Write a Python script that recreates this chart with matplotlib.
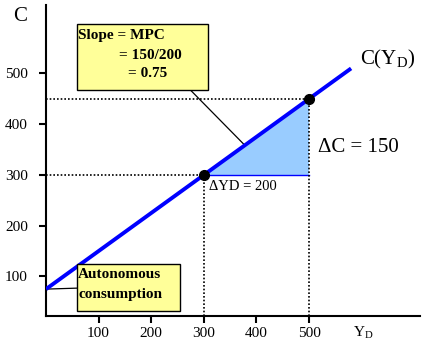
import matplotlib
matplotlib.use("Agg")
import matplotlib.pyplot as plt
from matplotlib.patches import Polygon, Rectangle

plt.rcParams['font.family'] = ['Liberation Serif', 'DejaVu Serif']
plt.rcParams['mathtext.fontset'] = 'custom'
plt.rcParams['mathtext.rm'] = 'Liberation Serif'
plt.rcParams['mathtext.it'] = 'Liberation Serif:italic'

# data
autonomous = 75
mpc = 0.75
yd_points = [300, 500]
yd_line = [0, 580]
x_ticks = [100, 200, 300, 400, 500]
y_ticks = [100, 200, 300, 400, 500]

def cons(y):
    return autonomous + mpc * y

c_points = [cons(v) for v in yd_points]
c_line = [cons(v) for v in yd_line]

fig = plt.figure(figsize=(4.24, 3.41), dpi=100)
ax = fig.add_axes([46/424, 25/341, 374/424, 311/341])
ax.set_xlim(0, 711)
ax.set_ylim(22, 635)

for s in ['top', 'right']:
    ax.spines[s].set_visible(False)
for s in ['left', 'bottom']:
    ax.spines[s].set_linewidth(1.5)

ax.set_xticks(x_ticks)
ax.set_yticks(y_ticks)
ax.tick_params(axis='both', labelsize=11, width=1.5, length=5, direction='out')
ax.tick_params(axis='y', pad=8)
ax.tick_params(axis='x', pad=3)

# shaded triangle
tri = Polygon([[yd_points[0], c_points[0]], [yd_points[1], c_points[0]],
               [yd_points[1], c_points[1]]], closed=True,
              facecolor='#99CCFF', edgecolor='none', zorder=1)
ax.add_patch(tri)
ax.plot([yd_points[0], yd_points[1]], [c_points[0], c_points[0]],
        color='#0000FF', lw=1.0, zorder=2)

# dotted guides
for xv, cv in zip(yd_points, c_points):
    ax.plot([0, xv], [cv, cv], color='black', ls=(0, (1, 1.2)), lw=1.2, zorder=2)
    ax.plot([xv, xv], [22, cv], color='black', ls=(0, (1, 1.2)), lw=1.2, zorder=2)

# consumption line
ax.plot(yd_line, c_line, color='#0000FF', lw=2.8, zorder=3, solid_capstyle='butt')
ax.plot(yd_points, c_points, 'o', color='black', ms=7, zorder=4)

# leader lines
ax.plot([274, 378], [468, cons(378)], color='black', lw=0.9, zorder=2)
ax.plot([0, 61], [autonomous, 77], color='black', lw=0.9, zorder=2, clip_on=False)

# box 1
ax.add_patch(Rectangle((61, 466), 249, 130, facecolor='#555555', edgecolor='none', zorder=4))
ax.add_patch(Rectangle((59, 468), 249, 130, facecolor='#FFFF99', edgecolor='black', lw=1.0, zorder=5))
ax.text(60, 574, 'Slope = MPC', fontsize=11, fontweight='bold', va='center', ha='left', zorder=6)
ax.text(139, 536, '= 150/200', fontsize=11, fontweight='bold', va='center', ha='left', zorder=6)
ax.text(156, 499, '= 0.75', fontsize=11, fontweight='bold', va='center', ha='left', zorder=6)

# box 2
ax.add_patch(Rectangle((61, 30), 196, 93, facecolor='#555555', edgecolor='none', zorder=4))
ax.add_patch(Rectangle((59, 32), 196, 93, facecolor='#FFFF99', edgecolor='black', lw=1.0, zorder=5))
ax.text(61, 103, 'Autonomous', fontsize=11, fontweight='bold', va='center', ha='left', zorder=6)
ax.text(61, 65, 'consumption', fontsize=11, fontweight='bold', va='center', ha='left', zorder=6)

# labels
ax.text(-49, 612, 'C', fontsize=15, va='center', ha='center', clip_on=False)
ax.text(597, 527, r'C(Y$_{\rm D}$)', fontsize=15, va='center', ha='left', clip_on=False)
ax.text(517, 355, '\u0394C = 150', fontsize=15, va='center', ha='left')
ax.text(310, 278, '\u0394YD = 200', fontsize=10.5, va='center', ha='left')
ax.text(584, -12, r'Y$_{\rm D}$', fontsize=11, va='center', ha='left', clip_on=False)

fig.savefig('out.png', dpi=100)
